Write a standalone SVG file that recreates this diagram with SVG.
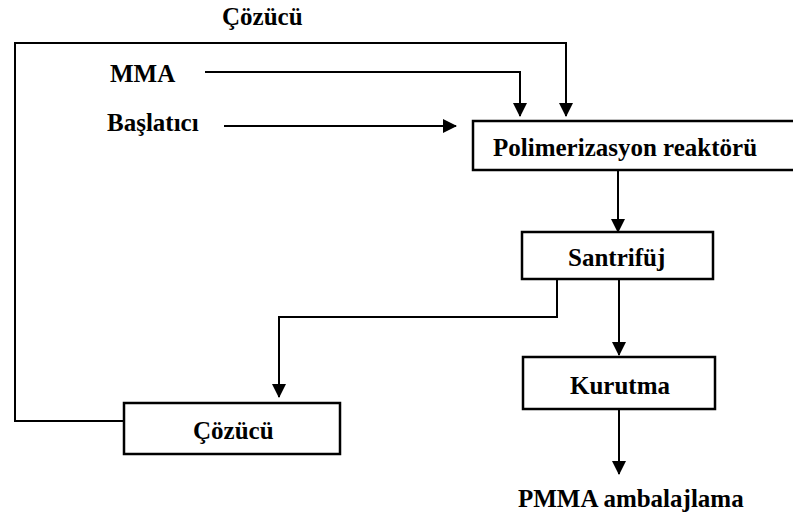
<svg xmlns="http://www.w3.org/2000/svg" width="793" height="517" viewBox="0 0 793 517">
<style>
.box{fill:#fff;stroke:#000;stroke-width:2.5}
.ln{fill:none;stroke:#000;stroke-width:2}
text{font-family:"Liberation Serif","Times New Roman",serif;font-weight:bold;font-size:25px;fill:#000}
</style>
<defs>
<marker id="ah" markerUnits="userSpaceOnUse" markerWidth="14" markerHeight="14" viewBox="0 0 14 14" refX="13" refY="7" orient="auto">
<path d="M0,0 L14,7 L0,14 Z" fill="#000"/>
</marker>
</defs>
<rect width="793" height="517" fill="#fff"/>
<g id="connectors">
<path class="ln" d="M124,421 H15 V43 H566 V116" marker-end="url(#ah)"/>
<path class="ln" d="M205,72 H520 V116" marker-end="url(#ah)"/>
<path class="ln" d="M224,126 H456" marker-end="url(#ah)"/>
<path class="ln" d="M618,170 V232" marker-end="url(#ah)"/>
<path class="ln" d="M557,279 V317 H279 V397" marker-end="url(#ah)"/>
<path class="ln" d="M619,279 V355" marker-end="url(#ah)"/>
<path class="ln" d="M619,409 V474" marker-end="url(#ah)"/>
</g>
<g id="label-cozucu-top"><text x="222" y="25">Çözücü</text></g>
<g id="label-mma"><text x="110" y="82">MMA</text></g>
<g id="label-baslatici"><text x="107" y="131">Başlatıcı</text></g>
<g id="reactor"><rect class="box" x="473" y="121" width="340" height="49"/><text x="493" y="156">Polimerizasyon reaktörü</text></g>
<g id="santrifuj"><rect class="box" x="522" y="232" width="191" height="47"/><text x="568" y="266">Santrifüj</text></g>
<g id="kurutma"><rect class="box" x="523" y="357" width="192" height="52"/><text x="570" y="394">Kurutma</text></g>
<g id="cozucu"><rect class="box" x="124" y="403" width="216" height="51"/><text x="193" y="439">Çözücü</text></g>
<g id="label-pmma"><text x="518" y="507">PMMA ambalajlama</text></g>
</svg>
